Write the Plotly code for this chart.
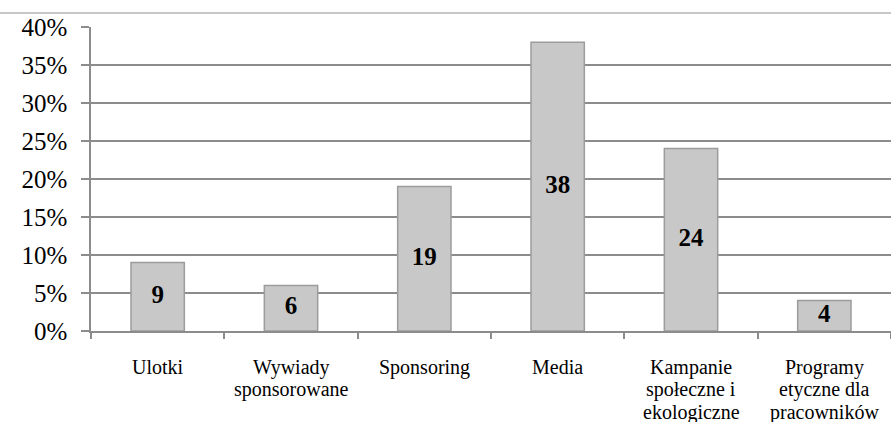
import plotly.graph_objects as go

categories = ["Ulotki", "Wywiady sponsorowane", "Sponsoring", "Media",
              "Kampanie społeczne i ekologiczne", "Programy etyczne dla pracowników"]
category_lines = [["Ulotki"], ["Wywiady", "sponsorowane"], ["Sponsoring"], ["Media"],
                  ["Kampanie", "społeczne i", "ekologiczne"],
                  ["Programy", "etyczne dla", "pracowników"]]
values = [9, 6, 19, 38, 24, 4]
y_ticks = [0, 5, 10, 15, 20, 25, 30, 35, 40]
y_tick_labels = ["0%", "5%", "10%", "15%", "20%", "25%", "30%", "35%", "40%"]

FONT = "Liberation Serif"

fig = go.Figure()
fig.add_trace(go.Bar(
    x=categories, y=values, width=0.4,
    marker=dict(color="#c8c8c8", line=dict(color="#9c9c9c", width=1.5)),
    hoverinfo="skip",
))
fig.add_trace(go.Scatter(
    x=categories, y=[v / 2 for v in values], mode="text",
    text=[f"<b>{v}</b>" for v in values],
    textposition="middle center",
    textfont=dict(family=FONT, size=25, color="#000000"),
    hoverinfo="skip",
))

annotations = []
for cat, lines in zip(categories, category_lines):
    for i, line in enumerate(lines):
        annotations.append(dict(
            x=cat, xref="x", y=0, yref="paper", text=line, showarrow=False,
            xanchor="center", yanchor="middle", yshift=-(36 + 22.5 * i),
            font=dict(family=FONT, size=20, color="#000000"),
        ))

fig.update_layout(
    width=891, height=422,
    margin=dict(l=91, r=0, t=27, b=91),
    plot_bgcolor="white", paper_bgcolor="white",
    showlegend=False,
    font=dict(family=FONT, color="#000000"),
    bargap=0.6,
    annotations=annotations,
    shapes=[dict(type="line", xref="paper", yref="paper", x0=-0.12, x1=1.0,
                 y0=1.046, y1=1.046, line=dict(color="#b4b4b4", width=1.5))],
)
fig.update_yaxes(
    range=[0, 40], tickvals=y_ticks, ticktext=y_tick_labels,
    showgrid=True, gridcolor="#8c8c8c", gridwidth=1.5,
    showline=True, linecolor="#8c8c8c", linewidth=1.5,
    ticks="outside", ticklen=8, tickcolor="#8c8c8c", tickwidth=1.5,
    tickfont=dict(family=FONT, size=25, color="#000000"),
    ticklabelstandoff=9,
    zeroline=False,
)
fig.update_xaxes(
    type="category", tickson="boundaries",
    showline=True, linecolor="#8c8c8c", linewidth=1.5,
    ticks="outside", ticklen=6, tickcolor="#8c8c8c", tickwidth=1.5,
    showticklabels=False,
    showgrid=False,
)

fig.write_html("out.html")
